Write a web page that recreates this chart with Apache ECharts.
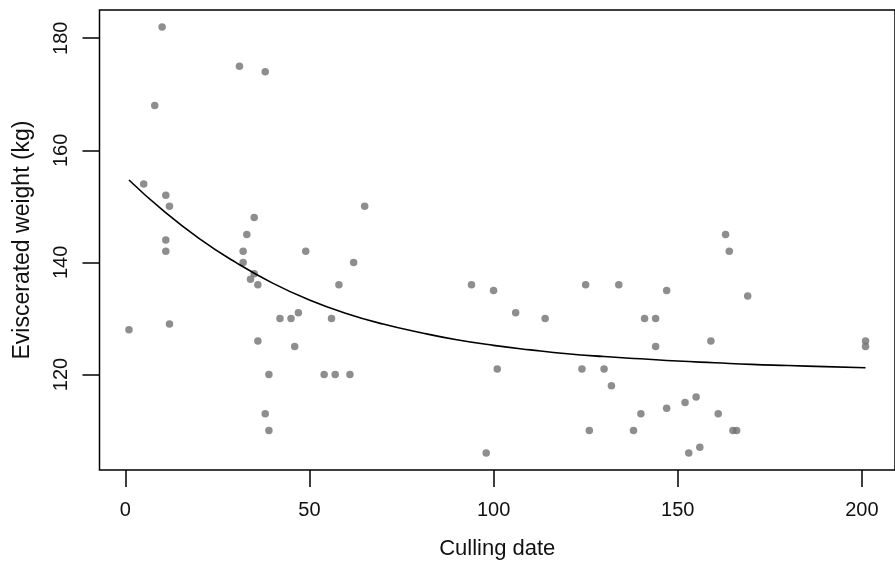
<!DOCTYPE html>
<html>
<head>
<meta charset="utf-8">
<script src="https://cdn.jsdelivr.net/npm/echarts@6/dist/echarts.min.js"></script>
<style>html,body{margin:0;padding:0;background:#fff}#c{width:895px;height:566px}</style>
</head>
<body>
<div id="c"></div>
<script>
// Observed points: culling date (x) and eviscerated weight (y)
const cullX = [10,31,38,8,5,11,12,65,35,33,11,11,32,49,32,62,35,34,36,58,47,42,45,56,12,1,36,46,39,54,57,61,38,39,
  94,100,106,114,125,134,101,124,130,132,126,138,98,
  163,164,147,169,141,144,144,159,201,201,155,152,147,140,161,165,166,153,156];
const weightY = [182,175,174,168,154,152,150,150,148,145,144,142,142,142,140,140,138,137,136,136,131,130,130,130,129,128,126,125,120,120,120,120,113,110,
  136,135,131,130,136,136,121,121,121,118,110,110,106,
  145,142,135,134,130,130,125,126,126,125,116,115,114,113,113,110,110,106,107];
// Fitted curve
const curveX = [1,10,20,30,40,50,60,70,80,90,100,110,120,130,140,150,160,170,180,190,201];
const curveY = [154.7,149.4,144.3,140.0,136.3,133.3,130.9,129.0,127.5,126.2,125.2,124.4,123.7,123.2,122.8,122.4,122.1,121.8,121.6,121.4,121.2];
const xTicks = [0,50,100,150,200];
const yTicks = [120,140,160,180];

const pts = cullX.map((x,i)=>[x, weightY[i]]);
const curve = curveX.map((x,i)=>[x, curveY[i]]);
const font = 'Liberation Sans, Arial, Helvetica, sans-serif';

const chart = echarts.init(document.getElementById('c'), null, {renderer:'canvas'});
chart.setOption({
  animation:false,
  backgroundColor:'#fff',
  grid:{left:99.5, right:-7, top:10, bottom:96, show:true, borderColor:'#000', borderWidth:1.5, backgroundColor:'transparent'},
  xAxis:{
    type:'value', min:-7, max:209,
    name:'Culling date', nameLocation:'middle', nameGap:68,
    nameTextStyle:{fontFamily:font, fontSize:22, color:'#111'},
    axisLine:{show:false, onZero:false},
    splitLine:{show:false},
    axisTick:{show:true, length:17, lineStyle:{color:'#000', width:1.5}, customValues:xTicks},
    axisLabel:{customValues:xTicks, margin:30, fontFamily:font, fontSize:20, color:'#111'}
  },
  yAxis:{
    type:'value', min:102.96, max:185.04,
    name:'Eviscerated weight (kg)', nameLocation:'middle', nameGap:65,
    nameTextStyle:{fontFamily:font, fontSize:23, color:'#111'},
    axisLine:{show:false, onZero:false},
    splitLine:{show:false},
    axisTick:{show:true, length:17, lineStyle:{color:'#000', width:1.5}, customValues:yTicks},
    axisLabel:{customValues:yTicks, rotate:90, margin:28, fontFamily:font, fontSize:20, color:'#111'}
  },
  series:[
    {type:'scatter', data:pts, symbol:'circle', symbolSize:7.5, itemStyle:{color:'#727272'}, z:2},
    {type:'line', data:curve, smooth:true, showSymbol:false, lineStyle:{color:'#000', width:1.6}, z:3}
  ]
});
</script>
</body>
</html>
